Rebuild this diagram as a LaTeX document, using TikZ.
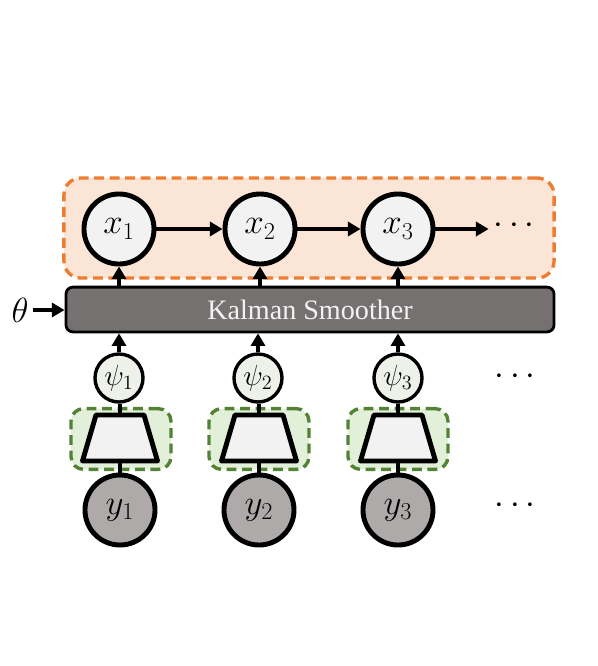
\documentclass[tikz,border=0pt]{standalone}
\usepackage{fontspec}
\newfontfamily\ksfont{Liberation Serif}
\usetikzlibrary{arrows.meta}
\definecolor{ofill}{HTML}{FBE5D6}
\definecolor{oline}{HTML}{ED7D31}
\definecolor{gfill}{HTML}{E2F0D9}
\definecolor{gline}{HTML}{548235}
\definecolor{xfill}{HTML}{F2F2F2}
\definecolor{psifill}{HTML}{EDF1EA}
\definecolor{yfill}{HTML}{AEAAAA}
\definecolor{ksfill}{HTML}{767171}
\tikzset{
  xnode/.style={circle, draw, line width=3.5pt, fill=xfill, minimum size=1.75cm, inner sep=0pt, font=\fontsize{26}{26}\selectfont},
  ynode/.style={xnode, fill=yfill},
  psinode/.style={circle, draw, line width=2.4pt, fill=psifill, minimum size=1.2cm, inner sep=0pt, font=\fontsize{20}{20}\selectfont},
  encshape/.style={draw, line width=3.5pt, fill=xfill},
  encbox/.style={draw=gline, fill=gfill, dashed, dash pattern=on 7pt off 4pt, line width=2.4pt, rounded corners=9pt, minimum width=2.5cm, minimum height=1.52cm},
  dots/.style={font=\fontsize{28}{28}\selectfont},
  link/.style={line width=2.5pt},
}
\begin{document}
\begin{tikzpicture}[x=0.025cm, y=-0.025cm, line join=round, >={Triangle[length=9pt,width=10pt]}]
  \useasboundingbox (0,0) rectangle (598,666);
  % state box
  \node[draw=oline, fill=ofill, dashed, dash pattern=on 7pt off 4pt, line width=2.4pt, rounded corners=12pt, minimum width=12.25cm, minimum height=2.5cm] (sbox) at (309,228) {};
  % encoder boxes
  \node[encbox] (b1) at (121,439) {};
  \node[encbox] (b2) at (259,439) {};
  \node[encbox] (b3) at (398,439) {};
  % encoders
  \draw[encshape] (96,415) -- (144,415) -- (157.5,461) -- (82.5,461) -- cycle;
  \draw[encshape] (235,415) -- (283,415) -- (296.5,461) -- (221.5,461) -- cycle;
  \draw[encshape] (374,415) -- (422,415) -- (435.5,461) -- (360.5,461) -- cycle;
  \coordinate (e1t) at (120,415); \coordinate (e1b) at (120,461);
  \coordinate (e2t) at (259,415); \coordinate (e2b) at (259,461);
  \coordinate (e3t) at (398,415); \coordinate (e3b) at (398,461);
  % nodes
  \node[xnode] (x1) at (119,229) {$x_1$};
  \node[xnode] (x2) at (260,229) {$x_2$};
  \node[xnode] (x3) at (398,229) {$x_3$};
  \node[dots] (xd) at (514,226) {$\cdots$};
  \node[draw, line width=2pt, fill=ksfill, rounded corners=5pt, minimum width=12.2cm, minimum height=1.12cm, text=xfill, font=\ksfont\fontsize{20}{20}\selectfont] (ks) at (310,309.5) {Kalman Smoother};
  \node[font=\fontsize{34}{34}\selectfont] (th) at (20,310) {$\theta$};
  \node[psinode] (p1) at (119,378) {$\psi_1$};
  \node[psinode] (p2) at (258,378) {$\psi_2$};
  \node[psinode] (p3) at (398,378) {$\psi_3$};
  \node[dots] (pd) at (515,377) {$\cdots$};
  \node[ynode] (y1) at (120,510) {$y_1$};
  \node[ynode] (y2) at (259,510) {$y_2$};
  \node[ynode] (y3) at (398,510) {$y_3$};
  \node[dots] (yd) at (515,506) {$\cdots$};
  % connectors
  \draw[->, link] (x1) -- (x2);
  \draw[->, link] (x2) -- (x3);
  \draw[->, link] (x3) -- (x3 -| xd.west);
  \draw[->, link] (th) -- (th -| ks.west);
  \draw[->, link] (ks.north -| x1) -- (x1);
  \draw[->, link] (ks.north -| x2) -- (x2);
  \draw[->, link] (ks.north -| x3) -- (x3);
  \draw[->, link] (p1) -- (ks.south -| p1);
  \draw[->, link] (p2) -- (ks.south -| p2);
  \draw[->, link] (p3) -- (ks.south -| p3);
  \draw[link] (e1t) -- (e1t |- p1.south);
  \draw[link] (e2t) -- (e2t |- p2.south);
  \draw[link] (e3t) -- (e3t |- p3.south);
  \draw[link] (y1) -- (e1b);
  \draw[link] (y2) -- (e2b);
  \draw[link] (y3) -- (e3b);
\end{tikzpicture}
\end{document}
